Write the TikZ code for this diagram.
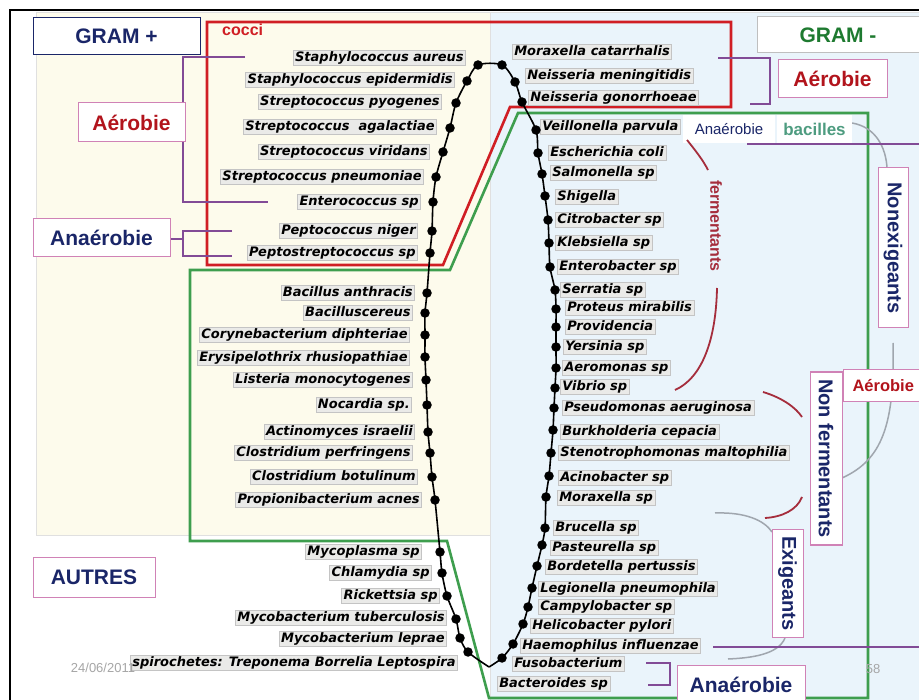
\documentclass[tikz,border=0pt]{standalone}
\usepackage{fontspec}
\setmainfont{Liberation Sans}
\newfontfamily\spfont{DejaVu Sans}
\definecolor{creambg}{RGB}{253,251,236}
\definecolor{bluebg}{RGB}{234,244,251}
\definecolor{redbox}{RGB}{208,30,36}
\definecolor{greenbox}{RGB}{62,158,78}
\definecolor{purp}{RGB}{130,75,150}
\definecolor{navy}{RGB}{26,38,104}
\definecolor{dred}{RGB}{178,20,28}
\definecolor{ggreen}{RGB}{30,122,48}
\definecolor{teal2}{RGB}{78,156,128}
\definecolor{grayc}{RGB}{160,166,174}
\definecolor{maroon2}{RGB}{165,45,60}
\definecolor{spfill}{RGB}{234,234,232}
\definecolor{spdraw}{RGB}{196,196,196}
\definecolor{pinkb}{RGB}{208,130,182}
\begin{document}
\begin{tikzpicture}[x=1pt,y=-1pt,
  sp/.style={fill=spfill, draw=spdraw, line width=0.6pt, inner xsep=2pt, inner ysep=1.5pt,
    text height=9.5pt, text depth=3pt, font=\spfont\bfseries\itshape\fontsize{13}{15}\selectfont},
  spl/.style={sp, anchor=east},
  spr/.style={sp, anchor=west},
  dot/.style={circle, fill=black, inner sep=0pt, minimum size=9.5pt},
  catbox/.style={fill=white, draw=pinkb, line width=1pt, inner sep=0pt, font=\bfseries\fontsize{21}{24}\selectfont},
  vbox/.style={fill=white, draw=pinkb, line width=1pt, inner sep=0pt, rotate=-90, text=navy, font=\bfseries\fontsize{20}{22}\selectfont},
  purpline/.style={draw=purp, line width=1.5pt},
  graycurve/.style={draw=grayc, line width=1.5pt},
  marcurve/.style={draw=maroon2, line width=1.8pt},
]
\useasboundingbox (0,0) rectangle (919,700);
\fill[white] (0,0) rectangle (919,700);
% backgrounds
\filldraw[fill=creambg, draw=black!12] (36,12) rectangle (490,535);
\filldraw[fill=bluebg, draw=black!12] (490,12) rectangle (925,705);
% frame
\draw[black, line width=2pt] (9.5,705) -- (9.5,10) -- (925,10);
% red and green boxes
\draw[redbox, line width=2.6pt, line join=miter] (207,22) -- (731,22) -- (731,107) -- (510,107) -- (443,265) -- (207,265) -- cycle;
\draw[greenbox, line width=2.6pt] (868,113) -- (518,113) -- (450,270) -- (190,270) -- (190,541) -- (447,541) -- (489,698) -- (868,698) -- cycle;
\node[anchor=west, text=redbox, font=\bfseries\fontsize{16}{18}\selectfont, inner sep=0pt] (cocci) at (222,30) {cocci};
% gray curves
\draw[graycurve] (852,123) .. controls (876,127) and (886,148) .. (887,168);
\draw[graycurve] (893,343) .. controls (895,425) and (882,460) .. (842,478);
\draw[graycurve] (715,513) .. controls (745,512) and (764,520) .. (772,532);
\draw[graycurve] (785,638) .. controls (778,655) and (750,658) .. (728,659);
% purple brackets
\draw[purpline] (245,57) -- (183,57) -- (183,202) -- (268,202);
\draw[purpline] (170,239) -- (183,239);
\draw[purpline] (232,231) -- (183,231) -- (183,256) -- (232,256);
\draw[purpline] (718,58) -- (770,58) -- (770,104) -- (750,104);
\draw[purpline] (747,144) -- (925,144);
\draw[purpline] (713,647) -- (925,647);
\draw[purpline] (646,663) -- (670,663) -- (670,685) -- (648,685);
% category boxes
\node[catbox, draw=navy, text=navy, minimum width=167pt, minimum height=37pt] (gp) at (116.5,36.5) {GRAM +};
\node[catbox, draw=black!25, text=ggreen, minimum width=162pt, minimum height=36pt] (gm) at (838,35) {GRAM -};
\node[catbox, text=dred, minimum width=107pt, minimum height=39pt] (aer1) at (131.5,122.5) {Aérobie};
\node[catbox, text=navy, minimum width=137pt, minimum height=38pt] (ana1) at (101.5,238) {Anaérobie};
\node[catbox, text=dred, minimum width=109pt, minimum height=38pt] (aer2) at (832.5,79) {Aérobie};
\node[catbox, text=navy, minimum width=122pt, minimum height=40pt] (autres) at (94,577) {AUTRES};
\node[catbox, text=navy, minimum width=128pt, minimum height=40pt] (ana2) at (741,685) {Anaérobie};
\node[catbox, text=dred, anchor=west, minimum height=32pt, inner xsep=9pt, font=\bfseries\fontsize{16.5}{20}\selectfont] (aer3) at (843,386) {Aérobie};
% small labels
\node[fill=white, text=navy, minimum width=92pt, minimum height=28pt, inner sep=0pt, font=\fontsize{15}{17}\selectfont] (ana3) at (729,129) {Anaérobie};
\node[fill=white, text=teal2, minimum width=75pt, minimum height=28pt, inner sep=0pt, font=\bfseries\fontsize{17}{19}\selectfont] (bac) at (814.5,129) {bacilles};
% vertical boxes
\node[vbox, minimum width=160pt, minimum height=30pt] (nonex) at (893,248) {Nonexigeants};
\node[vbox, minimum width=173pt, minimum height=32pt] (nonf) at (826,458.5) {Non fermentants};
\node[vbox, minimum width=107pt, minimum height=31pt] (exig) at (787.5,583.5) {Exigeants};
\draw[purpline, draw=pinkb] (810,372) -- (843,372);
% fermentants brackets
\draw[marcurve] (687,140) .. controls (695,150) and (703,160) .. (708,170);
\draw[marcurve] (717,288) .. controls (716,340) and (702,378) .. (675,390);
\node[rotate=-90, text=maroon2, inner sep=0pt, font=\bfseries\fontsize{16}{18}\selectfont] (ferm) at (716,226) {fermentants};
\draw[marcurve] (763,392) .. controls (783,398) and (796,408) .. (802,417);
\draw[marcurve] (802,497) .. controls (797,510) and (782,517) .. (765,518);
% left species
\node[spl] (s1) at (466,58) {Staphylococcus aureus};
\node[spl] (s2) at (455,80) {Staphylococcus epidermidis};
\node[spl] (s3) at (442,102) {Streptococcus pyogenes};
\node[spl] (s4) at (437,127) {Streptococcus\ \ agalactiae};
\node[spl] (s5) at (430,152) {Streptococcus viridans};
\node[spl] (s6) at (424,177) {Streptococcus pneumoniae};
\node[spl] (s7) at (421,202) {Enterococcus sp};
\node[spl] (s8) at (418,231) {Peptococcus niger};
\node[spl] (s9) at (418,253) {Peptostreptococcus sp};
\node[spl] (s10) at (415,293) {Bacillus anthracis};
\node[spl] (s11) at (413,313) {Bacilluscereus};
\node[spl] (s12) at (410,335) {Corynebacterium diphteriae};
\node[spl] (s13) at (410,358) {Erysipelothrix rhusiopathiae};
\node[spl] (s14) at (413,380) {Listeria monocytogenes};
\node[spl] (s15) at (412,405) {Nocardia sp.};
\node[spl] (s16) at (415,432) {Actinomyces israelii};
\node[spl] (s17) at (413,453) {Clostridium perfringens};
\node[spl] (s18) at (418,477) {Clostridium botulinum};
\node[spl] (s19) at (422,500) {Propionibacterium acnes};
\node[spl] (s20) at (422,552) {Mycoplasma sp};
\node[spl] (s21) at (432,573) {Chlamydia sp};
\node[spl] (s22) at (440,596) {Rickettsia sp};
\node[spl] (s23) at (447,618) {Mycobacterium tuberculosis};
\node[spl] (s24) at (447,639) {Mycobacterium leprae};
\node[spl] (s25) at (458,663) {spirochetes: Treponema Borrelia Leptospira};
% right species
\node[spr] (r1) at (512,52) {Moraxella catarrhalis};
\node[spr] (r2) at (525,76) {Neisseria meningitidis};
\node[spr] (r3) at (528,98) {Neisseria gonorrhoeae};
\node[spr] (r4) at (540,127) {Veillonella parvula};
\node[spr] (r5) at (548,153) {Escherichia coli};
\node[spr] (r6) at (550,173) {Salmonella sp};
\node[spr] (r7) at (555,197) {Shigella};
\node[spr] (r8) at (555,220) {Citrobacter sp};
\node[spr] (r9) at (555,243) {Klebsiella sp};
\node[spr] (r10) at (557,267) {Enterobacter sp};
\node[spr] (r11) at (560,290) {Serratia sp};
\node[spr] (r12) at (565,308) {Proteus mirabilis};
\node[spr] (r13) at (565,327) {Providencia};
\node[spr] (r14) at (563,347) {Yersinia sp};
\node[spr] (r15) at (562,368) {Aeromonas sp};
\node[spr] (r16) at (560,387) {Vibrio sp};
\node[spr] (r17) at (562,408) {Pseudomonas aeruginosa};
\node[spr] (r18) at (560,432) {Burkholderia cepacia};
\node[spr] (r19) at (558,453) {Stenotrophomonas maltophilia};
\node[spr] (r20) at (558,478) {Acinobacter sp};
\node[spr] (r21) at (557,498) {Moraxella sp};
\node[spr] (r22) at (553,528) {Brucella sp};
\node[spr] (r23) at (550,548) {Pasteurella sp};
\node[spr] (r24) at (545,567) {Bordetella pertussis};
\node[spr] (r25) at (538,589) {Legionella pneumophila};
\node[spr] (r26) at (538,607) {Campylobacter sp};
\node[spr] (r27) at (530,626) {Helicobacter pylori};
\node[spr] (r28) at (520,646) {Haemophilus influenzae};
\node[spr] (r29) at (512,664) {Fusobacterium};
\node[spr] (r30) at (497,684) {Bacteroides sp};
% dots
\coordinate (J) at (489,667);
\foreach \n/\x/\y in {a1/468/652, a2/460/638, a3/456/619, a4/447/596, a5/442/573, a6/440/552,
  a7/435/500, a8/432/477, a9/430/453, a10/428/432, a11/427/405, a12/426/380, a13/425/357,
  a14/425/335, a15/425/313, a16/427/293, a17/430/253, a18/432/231, a19/433/202, a20/436/177,
  a21/443/152, a22/450/128, a23/456/103, a24/467/81, a25/478/65,
  b1/502/65, b2/515/82, b3/522/102, b4/536/130, b5/538/153, b6/542/174, b7/545/196, b8/548/220,
  b9/549/243, b10/550/267, b11/555/290, b12/556/309, b13/556/327, b14/556/347, b15/556/368,
  b16/555/388, b17/554/408, b18/553/430, b19/551/453, b20/549/476, b21/546/497, b22/545/528,
  b23/542/545, b24/537/566, b25/532/588, b26/528/607, b27/523/624, b28/513/644, b29/502/658}
  {\node[dot] (\n) at (\x,\y) {};}
\draw[line width=1.6pt] plot[smooth, tension=0.5] coordinates {(J) (a1.center) (a2.center) (a3.center) (a4.center) (a5.center) (a6.center) (a7.center) (a8.center) (a9.center) (a10.center) (a11.center) (a12.center) (a13.center) (a14.center) (a15.center) (a16.center) (a17.center) (a18.center) (a19.center) (a20.center) (a21.center) (a22.center) (a23.center) (a24.center) (a25.center) (b1.center) (b2.center) (b3.center) (b4.center) (b5.center) (b6.center) (b7.center) (b8.center) (b9.center) (b10.center) (b11.center) (b12.center) (b13.center) (b14.center) (b15.center) (b16.center) (b17.center) (b18.center) (b19.center) (b20.center) (b21.center) (b22.center) (b23.center) (b24.center) (b25.center) (b26.center) (b27.center) (b28.center) (b29.center) (J)};
% footer
\node[text=black!35, font=\fontsize{13}{15}\selectfont, inner sep=0pt] (date) at (103,668) {24/06/2011};
\node[text=black!35, font=\fontsize{13}{15}\selectfont, inner sep=0pt] (page) at (873,669) {58};
\end{tikzpicture}
\end{document}
